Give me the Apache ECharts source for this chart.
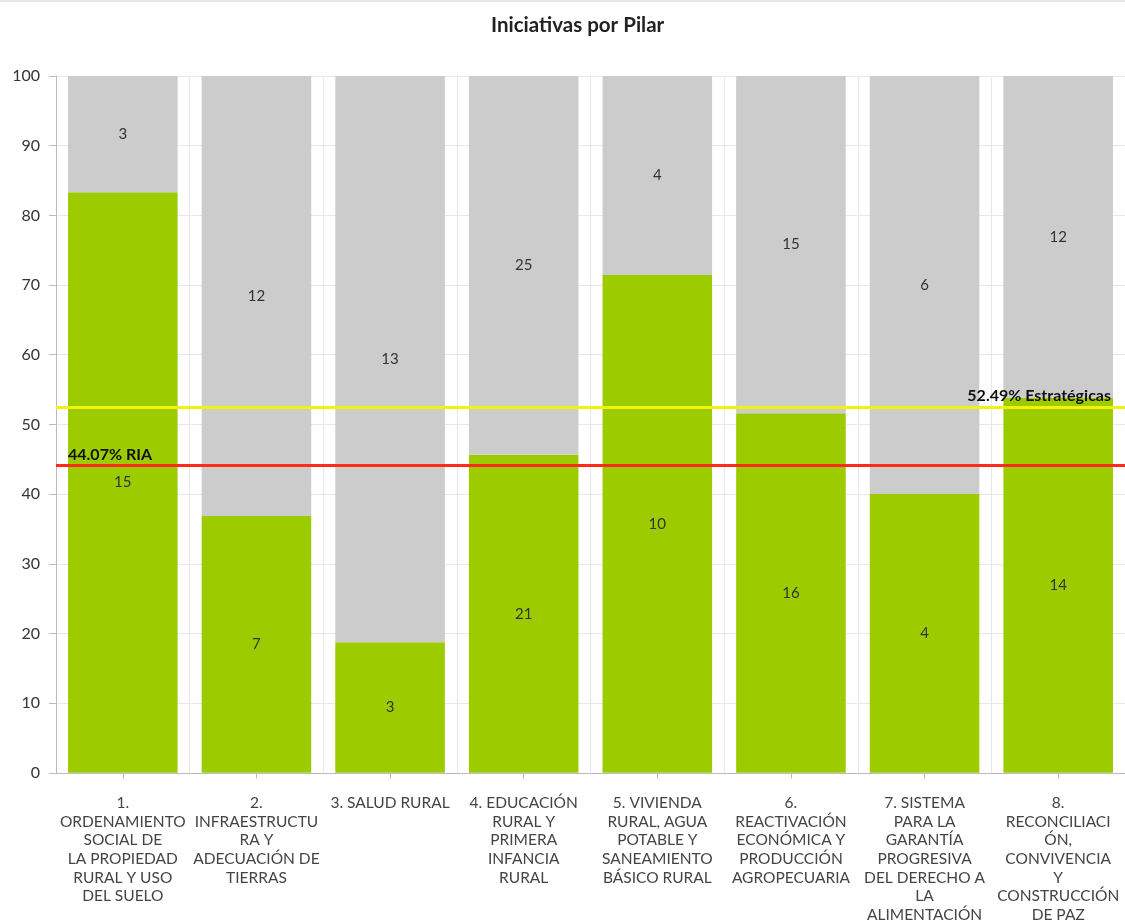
<!DOCTYPE html>
<html><head><meta charset="utf-8">
<script src="https://cdn.jsdelivr.net/npm/echarts@6/dist/echarts.min.js"></script>
<style>html,body{margin:0;padding:0;background:#fff}#c{width:1125px;height:924px}</style>
</head><body><div id="c"></div>
<script>
const categories = [
  "1.\nORDENAMIENTO\nSOCIAL DE\nLA PROPIEDAD\nRURAL Y USO\nDEL SUELO",
  "2.\nINFRAESTRUCTU\nRA Y\nADECUACIÓN DE\nTIERRAS",
  "3. SALUD RURAL",
  "4. EDUCACIÓN\nRURAL Y\nPRIMERA\nINFANCIA\nRURAL",
  "5. VIVIENDA\nRURAL, AGUA\nPOTABLE Y\nSANEAMIENTO\nBÁSICO RURAL",
  "6.\nREACTIVACIÓN\nECONÓMICA Y\nPRODUCCIÓN\nAGROPECUARIA",
  "7. SISTEMA\nPARA LA\nGARANTÍA\nPROGRESIVA\nDEL DERECHO A\nLA\nALIMENTACIÓN",
  "8.\nRECONCILIACI\nÓN,\nCONVIVENCIA\nY\nCONSTRUCCIÓN\nDE PAZ"
];
const greenCounts = [15, 7, 3, 21, 10, 16, 4, 14];
const greyCounts  = [3, 12, 13, 25, 4, 15, 6, 12];
const yTicks = [0, 10, 20, 30, 40, 50, 60, 70, 80, 90, 100];
const riaValue = 44.07;
const estrategicasValue = 52.49;

const greenPct = greenCounts.map((g, i) => 100 * g / (g + greyCounts[i]));
const greyPct = greyCounts.map((g, i) => 100 * g / (g + greenCounts[i]));

const FONT = 'Lato';
const chart = echarts.init(document.getElementById('c'), null, {renderer: 'canvas'});
chart.setOption({
  animation: false,
  backgroundColor: '#fff',
  title: {
    text: 'Iniciativas por Pilar', left: 486, top: 10,
    textStyle: {fontFamily: FONT, fontSize: 20.5, fontWeight: 'bold', color: '#222'}
  },
  graphic: [{type: 'rect', shape: {x: 0, y: 0, width: 1125, height: 2}, style: {fill: '#e6e6e6'}}],
  grid: {left: 56, right: 0, top: 76, bottom: 151, containLabel: false},
  xAxis: {
    type: 'category', data: categories,
    axisLine: {lineStyle: {color: '#bbb'}},
    axisTick: {show: true, alignWithLabel: true, length: 6, lineStyle: {color: '#bbb'}},
    splitLine: {show: true, lineStyle: {color: '#e8e8e8'}},
    axisLabel: {interval: 0, fontFamily: FONT, fontSize: 15.5, color: '#444', lineHeight: 18.6, margin: 21}
  },
  yAxis: {
    type: 'value', min: 0, max: 100, interval: 10,
    axisLine: {show: true, lineStyle: {color: '#bbb'}},
    axisTick: {show: true, length: 7, lineStyle: {color: '#bbb'}},
    splitLine: {lineStyle: {color: '#e8e8e8'}},
    axisLabel: {fontFamily: FONT, fontSize: 16, color: '#333', margin: 16,
      formatter: v => yTicks.includes(v) ? String(v) : ''}
  },
  series: [
    {
      name: 'RIA', type: 'bar', stack: 's', barCategoryGap: '18%',
      data: greenPct,
      itemStyle: {color: '#9ccc00'},
      label: {show: true, position: 'inside', fontFamily: FONT, fontSize: 15, color: '#333',
        formatter: p => String(greenCounts[p.dataIndex])},
      markLine: {
        symbol: 'none', silent: true,
        lineStyle: {color: '#ff2a1a', width: 3, type: 'solid'},
        data: [{yAxis: riaValue}],
        label: {position: 'insideStartTop', formatter: riaValue.toFixed(2) + '% RIA',
          fontFamily: FONT, fontSize: 16, fontWeight: 'bold', color: '#111', distance: [12, 3]}
      }
    },
    {
      name: 'Otras', type: 'bar', stack: 's', barCategoryGap: '18%',
      data: greyPct,
      itemStyle: {color: '#cccccc'},
      label: {show: true, position: 'inside', fontFamily: FONT, fontSize: 15, color: '#333',
        formatter: p => String(greyCounts[p.dataIndex])},
      markLine: {
        symbol: 'none', silent: true,
        lineStyle: {color: '#f2f20a', width: 3, type: 'solid'},
        data: [{yAxis: estrategicasValue}],
        label: {position: 'insideEndTop', formatter: estrategicasValue.toFixed(2) + '% Estratégicas',
          fontFamily: FONT, fontSize: 16, fontWeight: 'bold', color: '#111', distance: [14, 3]}
      }
    }
  ]
});
</script></body></html>
